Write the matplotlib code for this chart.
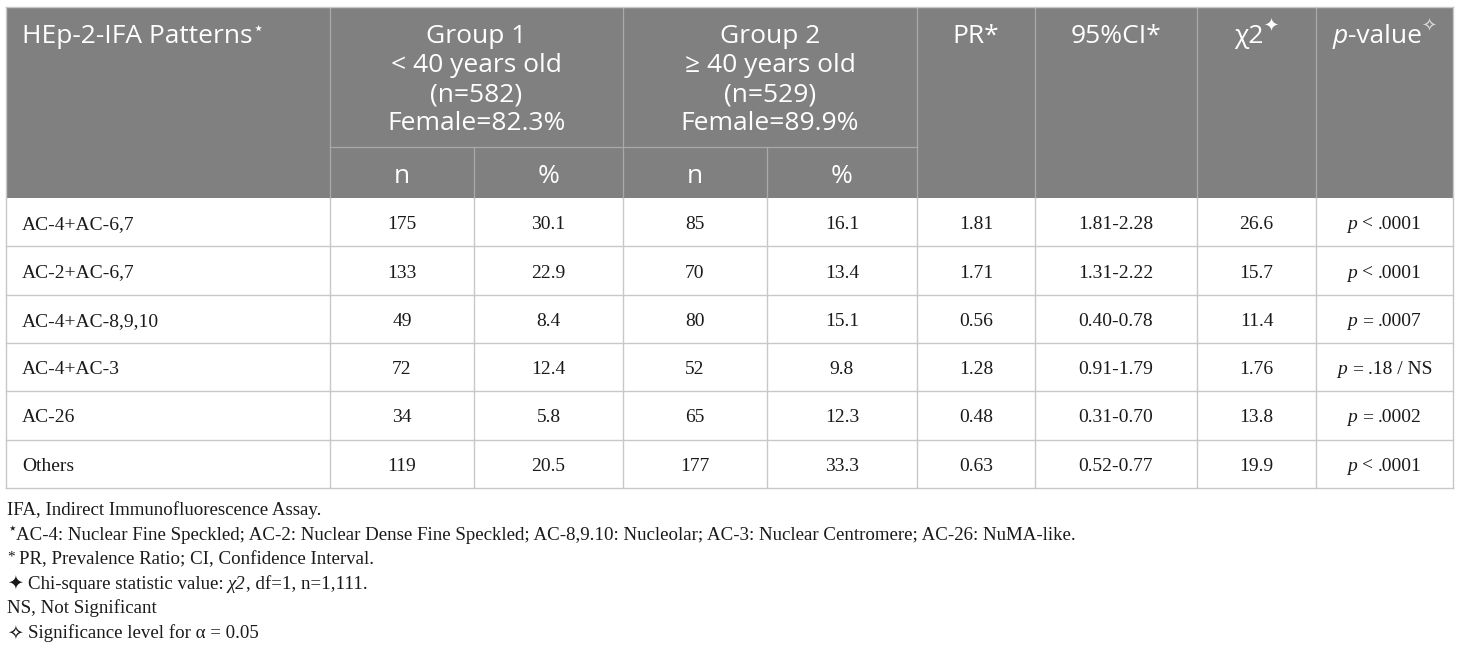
import matplotlib
matplotlib.use("Agg")
import matplotlib.pyplot as plt
from matplotlib.patches import Rectangle

# table data
patterns = ["AC-4+AC-6,7", "AC-2+AC-6,7", "AC-4+AC-8,9,10", "AC-4+AC-3", "AC-26", "Others"]
g1_n = ["175", "133", "49", "72", "34", "119"]
g1_pct = ["30.1", "22.9", "8.4", "12.4", "5.8", "20.5"]
g2_n = ["85", "70", "80", "52", "65", "177"]
g2_pct = ["16.1", "13.4", "15.1", "9.8", "12.3", "33.3"]
pr = ["1.81", "1.71", "0.56", "1.28", "0.48", "0.63"]
ci95 = ["1.81-2.28", "1.31-2.22", "0.40-0.78", "0.91-1.79", "0.31-0.70", "0.52-0.77"]
chi2 = ["26.6", "15.7", "11.4", "1.76", "13.8", "19.9"]
p_op = ["<", "<", "=", "=", "=", "<"]
p_val = [".0001", ".0001", ".0007", ".18 / NS", ".0002", ".0001"]

group1_head = ["Group 1", "< 40 years old", "(n=582)", "Female=82.3%"]
group2_head = ["Group 2", "\u2265 40 years old", "(n=529)", "Female=89.9%"]
sub_head = ["n", "%"]

notes = [
    [("IFA, Indirect Immunofluorescence Assay.", "n", 0)],
    [("\u22c6", "s", 6), ("AC-4: Nuclear Fine Speckled; AC-2: Nuclear Dense Fine Speckled; "
                          "AC-8,9.10: Nucleolar; AC-3: Nuclear Centromere; AC-26: NuMA-like.", "n", 0)],
    [("*", "s", 4), (" ", "n", 0), ("PR, Prevalence Ratio; CI, Confidence Interval.", "n", 0)],
    [("\u2726", "n", 0), (" ", "n", 0), ("Chi-square statistic value:", "n", 0), (" ", "n", 0),
     ("\u03c72", "i", 0), (", df=1, n=1,111.", "n", 0)],
    [("NS, Not Significant", "n", 0)],
    [("\u2727", "n", 0), (" ", "n", 0), ("Significance level for \u03b1 = 0.05", "n", 0)],
]

W, H = 1460, 649
fig = plt.figure(figsize=(14.6, 6.49), dpi=100)
ax = fig.add_axes([0, 0, 1, 1])
ax.set_xlim(0, W)
ax.set_ylim(H, 0)
ax.axis("off")
renderer = fig.canvas.get_renderer()

SANS = ["Open Sans", "DejaVu Sans"]
SERIF = ["Liberation Serif", "DejaVu Sans"]
HDR = dict(family=SANS, fontsize=19, color="white")
BODY = dict(family=SERIF, fontsize=14, color="#1a1a1a")
NOTE = dict(family=SERIF, fontsize=13.6, color="#1a1a1a")


def text_w(s, kw):
    t = ax.text(0, 0, s, **kw)
    w = t.get_window_extent(renderer).width
    t.remove()
    return w


def draw_runs(x, y, runs, ha="left"):
    # runs: (text, props, rise in px); y is the baseline
    widths = []
    for s, kw, rise in runs:
        if s.strip() == "":
            widths.append(len(s) * (text_w("x x", kw) - text_w("xx", kw)))
        else:
            widths.append(text_w(s, kw))
    total = sum(widths)
    if ha == "center":
        x -= total / 2
    for (s, kw, rise), w in zip(runs, widths):
        if s.strip():
            ax.text(x, y - rise, s, ha="left", va="baseline", **kw)
        x += w


cols = [6, 330, 474, 623, 767, 917, 1035, 1197, 1316, 1453]
top, mid_hdr, hdr_bot = 7, 147, 198
row_h = (488 - hdr_bot) / len(patterns)
rows = [hdr_bot + row_h * i for i in range(len(patterns) + 1)]

# header block
ax.add_patch(Rectangle((cols[0], top), cols[-1] - cols[0], hdr_bot - top,
                       fc="#808080", ec="none", zorder=0))
hline = dict(color="#a9a9a9", lw=0.9)
for x in [cols[1], cols[3], cols[5], cols[6], cols[7], cols[8]]:
    ax.plot([x, x], [top, hdr_bot], **hline)
for x in [cols[2], cols[4]]:
    ax.plot([x, x], [mid_hdr, hdr_bot], **hline)
ax.plot([cols[1], cols[5]], [mid_hdr, mid_hdr], **hline)
ax.plot([cols[0], cols[-1]], [top, top], color="#c8c8c8", lw=1)
ax.plot([cols[0], cols[0]], [top, hdr_bot], color="#c8c8c8", lw=1)
ax.plot([cols[-1], cols[-1]], [top, hdr_bot], color="#c8c8c8", lw=1)

base0 = 43
hsup = dict(HDR, fontsize=13)
draw_runs(22, base0, [("HEp-2-IFA Patterns", HDR, 0), ("\u22c6", hsup, 9)])
for i, (a, b) in enumerate(zip(group1_head, group2_head)):
    ax.text((cols[1] + cols[3]) / 2, base0 + 29 * i, a, ha="center", va="baseline", **HDR)
    ax.text((cols[3] + cols[5]) / 2, base0 + 29 * i, b, ha="center", va="baseline", **HDR)
for j, c in enumerate([1, 2, 3, 4]):
    ax.text((cols[c] + cols[c + 1]) / 2, 183, sub_head[j % 2], ha="center", va="baseline", **HDR)
draw_runs((cols[5] + cols[6]) / 2, base0, [("PR*", HDR, 0)], ha="center")
draw_runs((cols[6] + cols[7]) / 2, base0, [("95%CI*", HDR, 0)], ha="center")
draw_runs((cols[7] + cols[8]) / 2, base0, [("\u03c72", HDR, 0), ("\u2726", dict(HDR, fontsize=13), 11)],
          ha="center")
draw_runs((cols[8] + cols[9]) / 2, base0, [("p", dict(HDR, style="italic"), 0), ("-value", HDR, 0),
                                            ("\u2727", dict(HDR, fontsize=13, color="#dcdcdc"), 11)],
          ha="center")

# body grid
gl = dict(color="#c8c8c8", lw=1)
for y in rows[1:]:
    ax.plot([cols[0], cols[-1]], [y, y], **gl)
for x in cols:
    ax.plot([x, x], [hdr_bot, rows[-1]], **gl)

# body text
for i in range(len(patterns)):
    base = (rows[i] + rows[i + 1]) / 2 + 7
    ax.text(22, base, patterns[i], ha="left", va="baseline", **BODY)
    vals = [g1_n[i], g1_pct[i], g2_n[i], g2_pct[i], pr[i], ci95[i], chi2[i]]
    for c, v in enumerate(vals, start=1):
        ax.text((cols[c] + cols[c + 1]) / 2, base, v, ha="center", va="baseline", **BODY)
    draw_runs((cols[8] + cols[9]) / 2, base,
              [("p", dict(BODY, style="italic"), 0), (" ", BODY, 0), (p_op[i], BODY, 0),
               (" ", BODY, 0), (p_val[i], BODY, 0)], ha="center")

# footnotes
styles = {"n": NOTE, "i": dict(NOTE, style="italic"), "s": dict(NOTE, fontsize=11)}
for k, line in enumerate(notes):
    draw_runs(7, 515 + 24.6 * k, [(s, styles[st], r) for s, st, r in line])

fig.savefig("out.png", dpi=100)
